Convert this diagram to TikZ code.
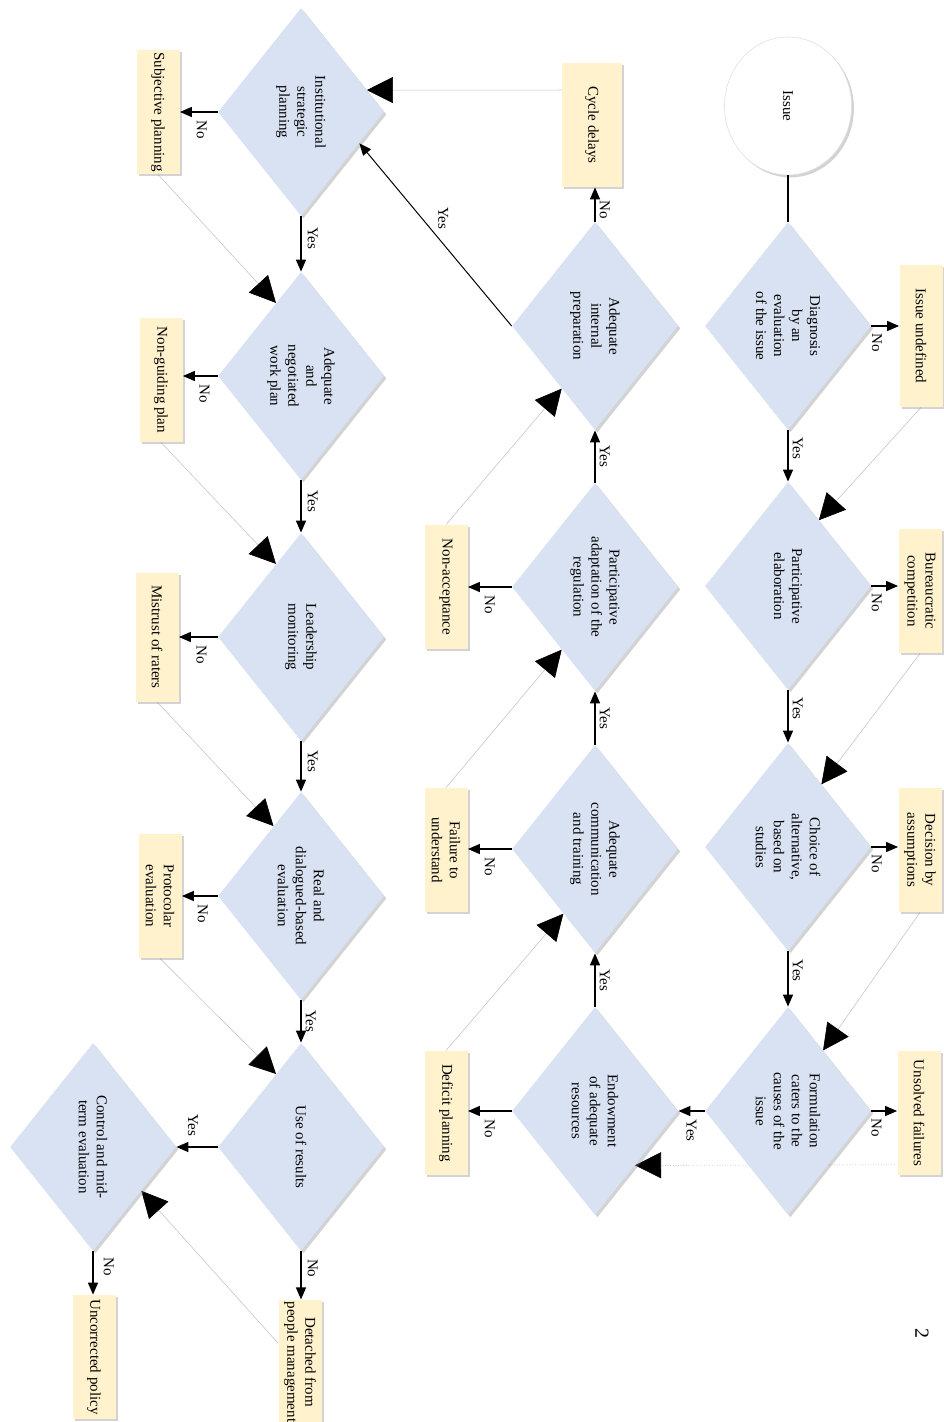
\documentclass[tikz,border=0pt]{standalone}
\usepackage{fontspec}
\setmainfont{Liberation Serif}
\usetikzlibrary{arrows.meta,shapes.geometric,shadows,calc,backgrounds}
\definecolor{decfill}{RGB}{217,226,242}
\definecolor{resfill}{RGB}{255,242,204}
\begin{document}
\begin{tikzpicture}[x=0.5pt, y=0.5pt, every node/.style={font=\fontsize{7.5}{9}\selectfont},
		dec/.style={diamond, fill=decfill, minimum width=104pt, minimum height=83pt, inner sep=0pt, align=center,
			drop shadow={shadow xshift=1.2pt, shadow yshift=-1.2pt, opacity=0.35}},
		res/.style={fill=resfill, minimum width=62pt, minimum height=21.5pt, inner sep=1pt, align=center,
			drop shadow={shadow xshift=1.2pt, shadow yshift=-1.2pt, opacity=0.35}},
		flow/.style={line width=0.7pt, -{Triangle[length=6pt, width=5pt]}},
		back/.style={draw=black!22, line width=0.3pt, -{Triangle[length=13pt, width=13pt, color=black]}},
		lbl/.style={inner sep=1pt}]
	\useasboundingbox (0,0) rectangle (943,-1422);
	\begin{scope}[rotate=-90, transform shape]
		\node[ellipse, fill=white, draw=black!12, line width=0.3pt, minimum width=69pt, minimum height=63.5pt,
			drop shadow={shadow xshift=1.2pt, shadow yshift=-1.2pt, opacity=0.35}] (is) at (106,788) {Issue};
		\node[dec] (d1) at (326,788) {Diagnosis\\by an\\evaluation\\of the issue};
		\node[dec] (d2) at (586,788) {Participative\\elaboration};
		\node[dec] (d3) at (847,788) {Choice of\\alternative,\\based on\\studies};
		\node[dec] (d4) at (1111,788) {Formulation\\caters to the\\causes of the\\issue};
		\node[dec] (e1) at (1111,595) {Endowment\\of adequate\\resources};
		\node[dec] (e2) at (849,595) {Adequate\\communication\\and training};
		\node[dec] (e3) at (587,595) {Participative\\adaptation of the\\regulation};
		\node[dec] (e4) at (326,595) {Adequate\\internal\\preparation};
		\node[dec] (f1) at (112,301) {Institutional\\strategic\\planning};
		\node[dec] (f2) at (376,301) {Adequate\\and\\negotiated\\work plan};
		\node[dec] (f3) at (637,301) {Leadership\\monitoring};
		\node[dec] (f4) at (896,301) {Real and\\dialogued-based\\evaluation};
		\node[dec] (f5) at (1147,301) {Use of results};
		\node[dec] (g1) at (1147,93) {Control and mid-\\term evaluation};
		\node[res, minimum width=71pt] (iu) at (336,921) {Issue undefined};
		\node[res] (bc) at (591,920) {Bureaucratic\\competition};
		\node[res] (da) at (850,920) {Decision by\\assumptions};
		\node[res] (uf) at (1113,919) {Unsolved failures};
		\node[res, minimum height=30pt] (cd) at (125,592) {Cycle delays};
		\node[res] (na) at (587,446) {Non-acceptance};
		\node[res] (fu) at (850,446) {Failure to\\understand};
		\node[res] (dp) at (1113,446) {Deficit planning};
		\node[res] (sp) at (112,158) {Subjective planning};
		\node[res] (ng) at (380,161) {Non-guiding plan};
		\node[res, minimum width=64.5pt] (mr) at (637,157) {Mistrust of raters};
		\node[res] (pe) at (896,160) {Protocolar\\evaluation};
		\node[res] (dm) at (1362,300) {Detached from\\people management};
		\node[res] (up) at (1357,94) {Uncorrected policy};
		\node[font=\fontsize{10}{12}\selectfont] (pg) at (1333,922) {2};

		\draw[line width=0.9pt] (is) -- (d1);
		\draw[flow] (d1) -- node[lbl, above=1pt, pos=0.35] {Yes} (d2);
		\draw[flow] (d2) -- node[lbl, above=1pt, pos=0.35] {Yes} (d3);
		\draw[flow] (d3) -- node[lbl, above=1pt, pos=0.35] {Yes} (d4);
		\draw[flow] (d1.north) -- node[lbl, right=2.5pt, pos=0.2] {No} ($(iu.south west)!(d1.north)!(iu.south east)$);
		\draw[flow] (d2.north) -- node[lbl, right=2.5pt, pos=0.2] {No} ($(bc.south west)!(d2.north)!(bc.south east)$);
		\draw[flow] (d3.north) -- node[lbl, right=2.5pt, pos=0.2] {No} ($(da.south west)!(d3.north)!(da.south east)$);
		\draw[flow] (d4.north) -- node[lbl, right=2.5pt, pos=0.2] {No} ($(uf.south west)!(d4.north)!(uf.south east)$);
		\draw[flow] (d4) -- node[lbl, right=3pt, pos=0.5] {Yes} (e1);
		\draw[flow] (e1) -- node[lbl, above=1pt, pos=0.5] {Yes} (e2);
		\draw[flow] (e2) -- node[lbl, above=1pt, pos=0.5] {Yes} (e3);
		\draw[flow] (e3) -- node[lbl, above=1pt, pos=0.5] {Yes} (e4);
		\draw[flow] (e1.south) -- node[lbl, right=3pt, pos=0.5] {No} ($(dp.north west)!(e1.south)!(dp.north east)$);
		\draw[flow] (e2.south) -- node[lbl, right=3pt, pos=0.5] {No} ($(fu.north west)!(e2.south)!(fu.north east)$);
		\draw[flow] (e3.south) -- node[lbl, right=3pt, pos=0.5] {No} ($(na.north west)!(e3.south)!(na.north east)$);
		\draw[flow] (e4.west) -- node[lbl, above=1pt, pos=0.35] {No} ($(cd.north east)!(e4.west)!(cd.south east)$);
		\draw[line width=0.5pt, -{Triangle[length=6pt, width=5pt]}] (e4.south) -- node[lbl, above=7pt, pos=0.59] {Yes} ($(f1.north)!0.3!(f1.east)$);
		\draw[flow] (f1) -- node[lbl, above=2pt, pos=0.4] {Yes} (f2);
		\draw[flow] (f2) -- node[lbl, above=2pt, pos=0.4] {Yes} (f3);
		\draw[flow] (f3) -- node[lbl, above=2pt, pos=0.4] {Yes} (f4);
		\draw[flow] (f4) -- node[lbl, above=1pt, pos=0.5] {Yes} (f5);
		\draw[flow] (f1.south) -- node[lbl, right=3pt, pos=0.42] {No} ($(sp.north west)!(f1.south)!(sp.north east)$);
		\draw[flow] (f2.south) -- node[lbl, right=3pt, pos=0.38] {No} ($(ng.north west)!(f2.south)!(ng.north east)$);
		\draw[flow] (f3.south) -- node[lbl, right=3pt, pos=0.42] {No} ($(mr.north west)!(f3.south)!(mr.north east)$);
		\draw[flow] (f4.south) -- node[lbl, right=3pt, pos=0.42] {No} ($(pe.north west)!(f4.south)!(pe.north east)$);
		\draw[flow] (f5.east) -- node[lbl, above=2pt, pos=0.35] {No} ($(dm.north west)!(f5.east)!(dm.south west)$);
		\draw[flow] (f5) -- node[lbl, left=4pt, pos=0.6] {Yes} (g1);
		\draw[flow] (g1.east) -- node[lbl, above=4pt, pos=0.35] {No} ($(up.north west)!(g1.east)!(up.south west)$);

		\begin{scope}[on background layer]
			\draw[back] (iu.east) -- ($(d2.west)!0.37!(d2.north)$);
			\draw[back] (bc.east) -- ($(d3.west)!0.4!(d3.north)$);
			\draw[back] (da.east) -- ($(d4.west)!0.42!(d4.north)$);
			\draw[back, draw=black!45, densely dotted] ($(uf.south west)!0.915!(uf.south east)$) -- ($(e1.north)!0.52!(e1.east)$);
			\draw[back] (na.west) -- ($(e4.east)!0.4!(e4.south)$);
			\draw[back] (fu.west) -- ($(e3.east)!0.4!(e3.south)$);
			\draw[back] (dp.west) -- ($(e2.east)!0.38!(e2.south)$);
			\draw[back] ($(cd.south west)!0.22!(cd.south east)$) -- ($(f1.north)!0.21!(f1.west)$);
			\draw[back] (sp.east) -- ($(f2.west)!0.3!(f2.south)$);
			\draw[back] (ng.east) -- ($(f3.west)!0.3!(f3.south)$);
			\draw[back] (mr.east) -- ($(f4.west)!0.33!(f4.south)$);
			\draw[back] (pe.east) -- ($(f5.west)!0.3!(f5.south)$);
			\draw[back] ($(dm.south west)!0.35!(dm.south east)$) -- ($(g1.north)!0.42!(g1.east)$);
		\end{scope}
	\end{scope}
\end{tikzpicture}
\end{document}
